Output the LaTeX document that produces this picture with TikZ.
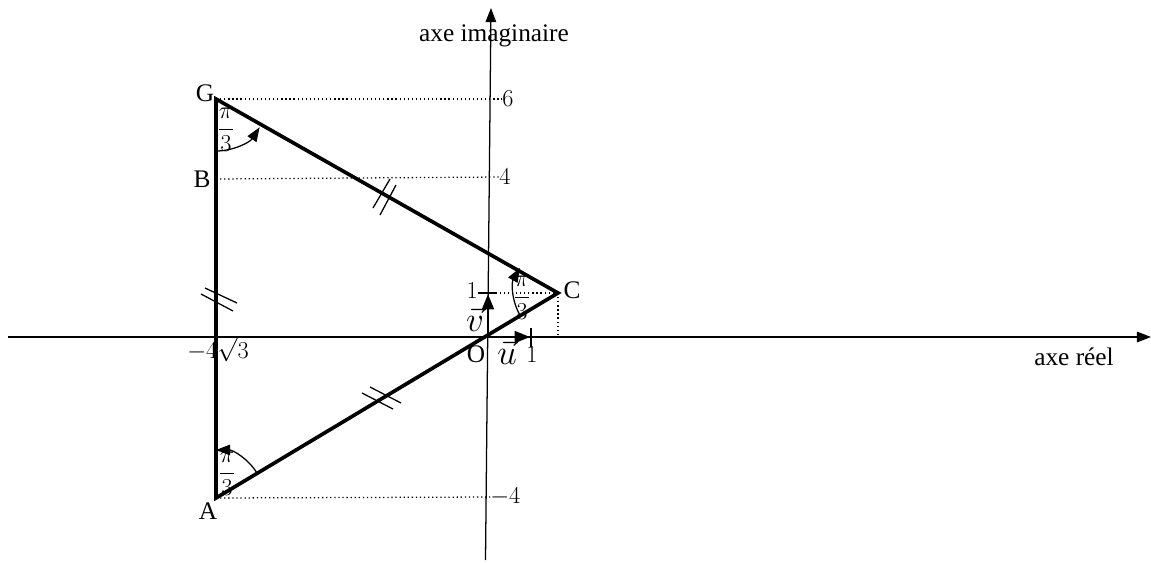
\documentclass[tikz,border=0pt]{standalone}
\usepackage{fontspec}
\setmainfont{Liberation Serif}
\usetikzlibrary{arrows.meta,calc}
\tikzset{
	axe/.style={line width=0.9pt,-{Triangle[length=10pt,width=7.5pt]}},
	cote/.style={line width=2.6pt,line join=miter},
	pointille/.style={dotted,line width=0.9pt},
	hachure/.style={line width=0.9pt},
	angle/.style={line width=0.9pt,-{Triangle[length=10pt,width=7.5pt]}},
	vecteur/.style={line width=1.5pt,-{Triangle[length=11pt,width=8.5pt]}},
	lettre/.style={font=\fontsize{18}{18}\selectfont,inner sep=0pt},
	grad/.style={font=\fontsize{17}{17}\selectfont,inner sep=0pt},
	frac/.style={font=\fontsize{17}{17}\selectfont,inner sep=0pt},
}
\begin{document}
\begin{tikzpicture}[x=0.025cm,y=-0.025cm]
	\useasboundingbox (0,0) rectangle (1151,562);
	% points du plan
	\coordinate (O) at (488,337);
	\coordinate (G) at (216,99);
	\coordinate (B) at (216,179);
	\coordinate (A) at (216,498);
	\coordinate (C) at (558,293);
	% axes
	\coordinate (xdeb) at (8,337);
	\coordinate (xfin) at (1151,337);
	\coordinate (ydeb) at (485.5,560);
	\coordinate (yfin) at (491,8);
	\draw[axe] (xdeb) -- (xfin);
	\draw[axe] (ydeb) -- (yfin);
	\node[lettre] (axeim) at (494,36) {axe imaginaire};
	\node[lettre] (axere) at (1074,357) {axe réel};
	% graduations
	\node[grad,anchor=west] (n6) at (502,99) {$6$};
	\node[grad,anchor=west] (n4) at (499,177) {$4$};
	\node[grad,anchor=west] (nm4) at (490,497) {$-4$};
	\node[grad,anchor=east] (n1y) at (478,291) {$1$};
	\node[grad] (n1x) at (532,355) {$1$};
	\node[grad] (nx) at (218,349) {$-4\sqrt{3}$};
	\coordinate (ty1) at (478,293);
	\coordinate (ty2) at (497,293);
	\coordinate (tx1) at (531,328);
	\coordinate (tx2) at (531,347);
	\draw[hachure] (ty1) -- (ty2);
	\draw[hachure] (tx1) -- (tx2);
	% pointilles
	\draw[pointille] (G) -- (n6.west);
	\draw[pointille] (B) -- (n4.west);
	\draw[pointille] (A) -- (nm4.west);
	\draw[pointille] (C) -- (ty2);
	\draw[pointille] (C) -- (C |- O);
	% vecteurs unitaires
	\coordinate (u) at (530,337);
	\coordinate (v) at (488,294);
	\draw[vecteur] (O) -- (u);
	\draw[vecteur] (O) -- (v);
	\node[font=\fontsize{24}{24}\selectfont,inner sep=0pt] (lu) at (507,352) {$\vec{u}$};
	\node[font=\fontsize{24}{24}\selectfont,inner sep=0pt] (lv) at (475,319) {$\vec{v}$};
	% triangle
	\draw[cote] (A) -- (G) -- (C) -- cycle;
	\node[lettre] (lG) at (205,93) {G};
	\node[lettre] (lB) at (202,179) {B};
	\node[lettre] (lA) at (208,511) {A};
	\node[lettre] (lC) at (572,290) {C};
	\node[lettre] (lO) at (476,354) {O};
	% codage des cotes egaux
	\draw[hachure] (205,288) -- (237,303);
	\draw[hachure] (201,294) -- (233,311);
	\draw[hachure] (373,208) -- (390,179);
	\draw[hachure] (380,215) -- (396,185);
	\draw[hachure] (370,387) -- (401,403);
	\draw[hachure] (362,393) -- (393,409);
	% angles
	\draw[angle] ($(G)+(90:52)$) arc[start angle=90,end angle=33,radius=52];
	\draw[angle] ($(A)+(-31:48)$) arc[start angle=-31,end angle=-90,radius=48];
	\draw[angle] ($(C)+(149:44)$) arc[start angle=149,end angle=210,radius=47];
	\node[frac] (aG) at (226,130) {$\displaystyle\frac{\pi}{3}$};
	\node[frac] (aA) at (227,474) {$\displaystyle\frac{\pi}{3}$};
	\node[frac] (aC) at (522,298) {$\displaystyle\frac{\pi}{3}$};
\end{tikzpicture}
\end{document}
